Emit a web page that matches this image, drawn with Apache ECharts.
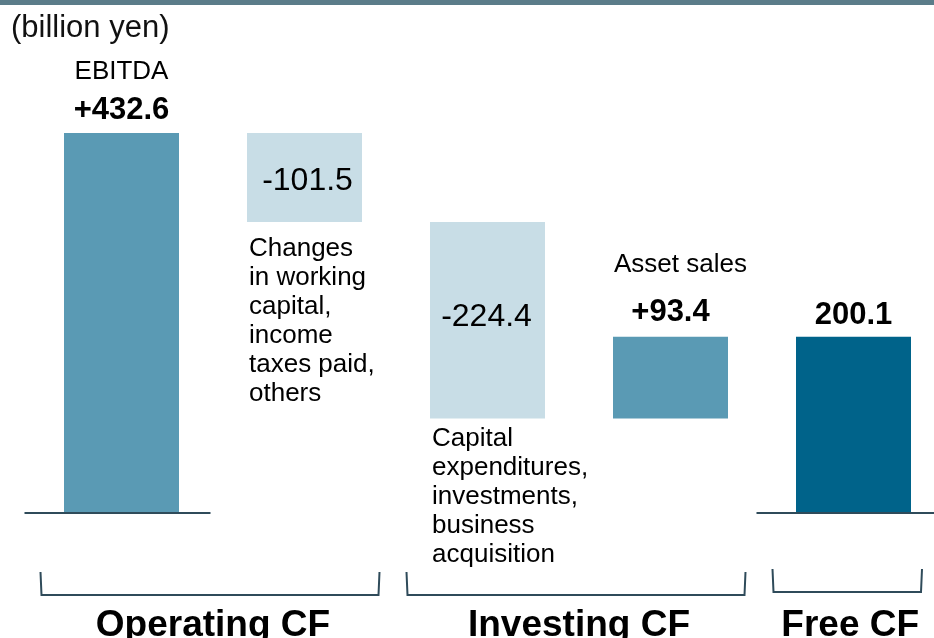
<!DOCTYPE html>
<html>
<head>
<meta charset="utf-8">
<script src="https://cdn.jsdelivr.net/npm/echarts@6/dist/echarts.min.js"></script>
<style>
html, body { margin: 0; padding: 0; background: #fff; }
#chart { width: 934px; height: 638px; }
</style>
</head>
<body>
<div id="chart"></div>
<script>
// 单位：十亿日元
const categories = ['EBITDA', 'Working capital etc.', 'Capex etc.', 'Asset sales', 'Free CF']
const steps = [432.6, -101.5, -224.4, 93.4]
const freeCF = 200.1
const aboveNotes = ['EBITDA', '', '', 'Asset sales', '']
const belowNotes = [
    '',
    'Changes\nin working\ncapital,\nincome\ntaxes paid,\nothers',
    'Capital\nexpenditures,\ninvestments,\nbusiness\nacquisition',
    '',
    ''
]
const groupNames = ['Operating CF', 'Investing CF', 'Free CF']
const groupFrom = [0, 2, 4]
const groupTo = [1, 3, 4]

const FONT = '"Liberation Sans", Arial, sans-serif'
const barColors = ['#5a9ab4', '#c8dde6', '#c8dde6', '#5a9ab4', '#00638a']
const lineColor = '#2f4b5a'
// 标签位置微调（每根柱子）
const topDist = [5, 0, 0, 6, 3]
const noteLineH = [41, 0, 0, 60, 0]
const insideOffset = [[0, 0], [3, 4], [-1, -3]]
const belowOffsetY = [0, 12, 6, 0, 0]

// 瀑布图：透明底座 + 数值柱
let run = 0
const base = []
const heights = []
const labels = []
steps.forEach(v => {
    if (v >= 0) {
        base.push(run)
        heights.push(v)
        labels.push('+' + v.toFixed(1))
        run += v
    } else {
        run += v
        base.push(run)
        heights.push(-v)
        labels.push(v.toFixed(1))
    }
})
base.push(0)
heights.push(freeCF)
labels.push(freeCF.toFixed(1))

const chart = echarts.init(document.getElementById('chart'))

const valueData = heights.map((h, i) => {
    const negative = i < steps.length && steps[i] < 0
    let label
    if (negative) {
        label = {
            show: true,
            position: 'inside',
            offset: insideOffset[i],
            fontSize: 32,
            fontFamily: FONT,
            color: '#000',
            formatter: labels[i]
        }
    } else {
        const note = aboveNotes[i]
        label = {
            show: true,
            position: 'top',
            distance: topDist[i],
            formatter: note ? `{note|${note}}\n{val|${labels[i]}}` : `{val|${labels[i]}}`,
            rich: {
                note: {
                    fontSize: 26, fontFamily: FONT, color: '#000',
                    lineHeight: noteLineH[i],
                    padding: i === 3 ? [0, 0, 0, 20] : 0
                },
                val: { fontSize: 31, fontWeight: 'bold', fontFamily: FONT, color: '#000', lineHeight: 36 }
            }
        }
    }
    return { value: h, itemStyle: { color: barColors[i] }, label }
})

const baseData = base.map((b, i) => ({
    value: b,
    label: belowNotes[i] ? {
        show: true,
        position: 'insideTopLeft',
        distance: 0,
        offset: [2, belowOffsetY[i]],
        fontSize: 26,
        lineHeight: 29,
        fontFamily: FONT,
        color: '#000',
        formatter: belowNotes[i]
    } : { show: false }
}))

chart.setOption({
    animation: false,
    title: {
        text: '(billion yen)',
        left: 6,
        top: 8,
        textStyle: { fontSize: 31, fontWeight: 'normal', fontFamily: FONT, color: '#111' }
    },
    grid: { left: 30, width: 915, top: 74, bottom: 126, outerBoundsMode: 'none' },
    xAxis: { type: 'category', data: categories, show: false },
    yAxis: { type: 'value', min: 0, max: 500, show: false },
    series: [
        {
            name: 'base', type: 'bar', stack: 'wf', barWidth: 115,
            itemStyle: { color: 'transparent' },
            emphasis: { disabled: true },
            data: baseData
        },
        {
            name: 'value', type: 'bar', stack: 'wf', barWidth: 115,
            emphasis: { disabled: true },
            data: valueData
        }
    ]
})

// 基线、括号、分组标题
const px = i => chart.convertToPixel({ gridIndex: 0 }, [i, 0])
const g = [
    { type: 'rect', shape: { x: 0, y: 0, width: 934, height: 5 }, style: { fill: '#5b7c89' } }
]
const y0 = px(0)[1] + 1
g.push({ type: 'line', shape: { x1: px(0)[0] - 97, y1: y0, x2: px(0)[0] + 89, y2: y0 }, style: { stroke: lineColor, lineWidth: 2 } })
g.push({ type: 'line', shape: { x1: px(4)[0] - 97, y1: y0, x2: 934, y2: y0 }, style: { stroke: lineColor, lineWidth: 2 } })

groupNames.forEach((name, k) => {
    const x1 = px(groupFrom[k])[0] - 81
    const x2 = Math.min(px(groupTo[k])[0] + 75, 922)
    const top = k === 2 ? 569 : 572
    const bot = k === 2 ? 592 : 595
    g.push({
        type: 'polyline',
        shape: { points: [[x1, top], [x1 + 1, bot], [x2 - 1, bot], [x2, top]] },
        style: { stroke: lineColor, lineWidth: 2, fill: null }
    })
    g.push({
        type: 'text',
        x: (x1 + x2) / 2 + 3,
        y: 626,
        style: {
            text: name, fontSize: 37, fontWeight: 'bold', fontFamily: FONT, fill: '#000',
            align: 'center', verticalAlign: 'middle'
        }
    })
})

chart.setOption({ graphic: g })
</script>
</body>
</html>
